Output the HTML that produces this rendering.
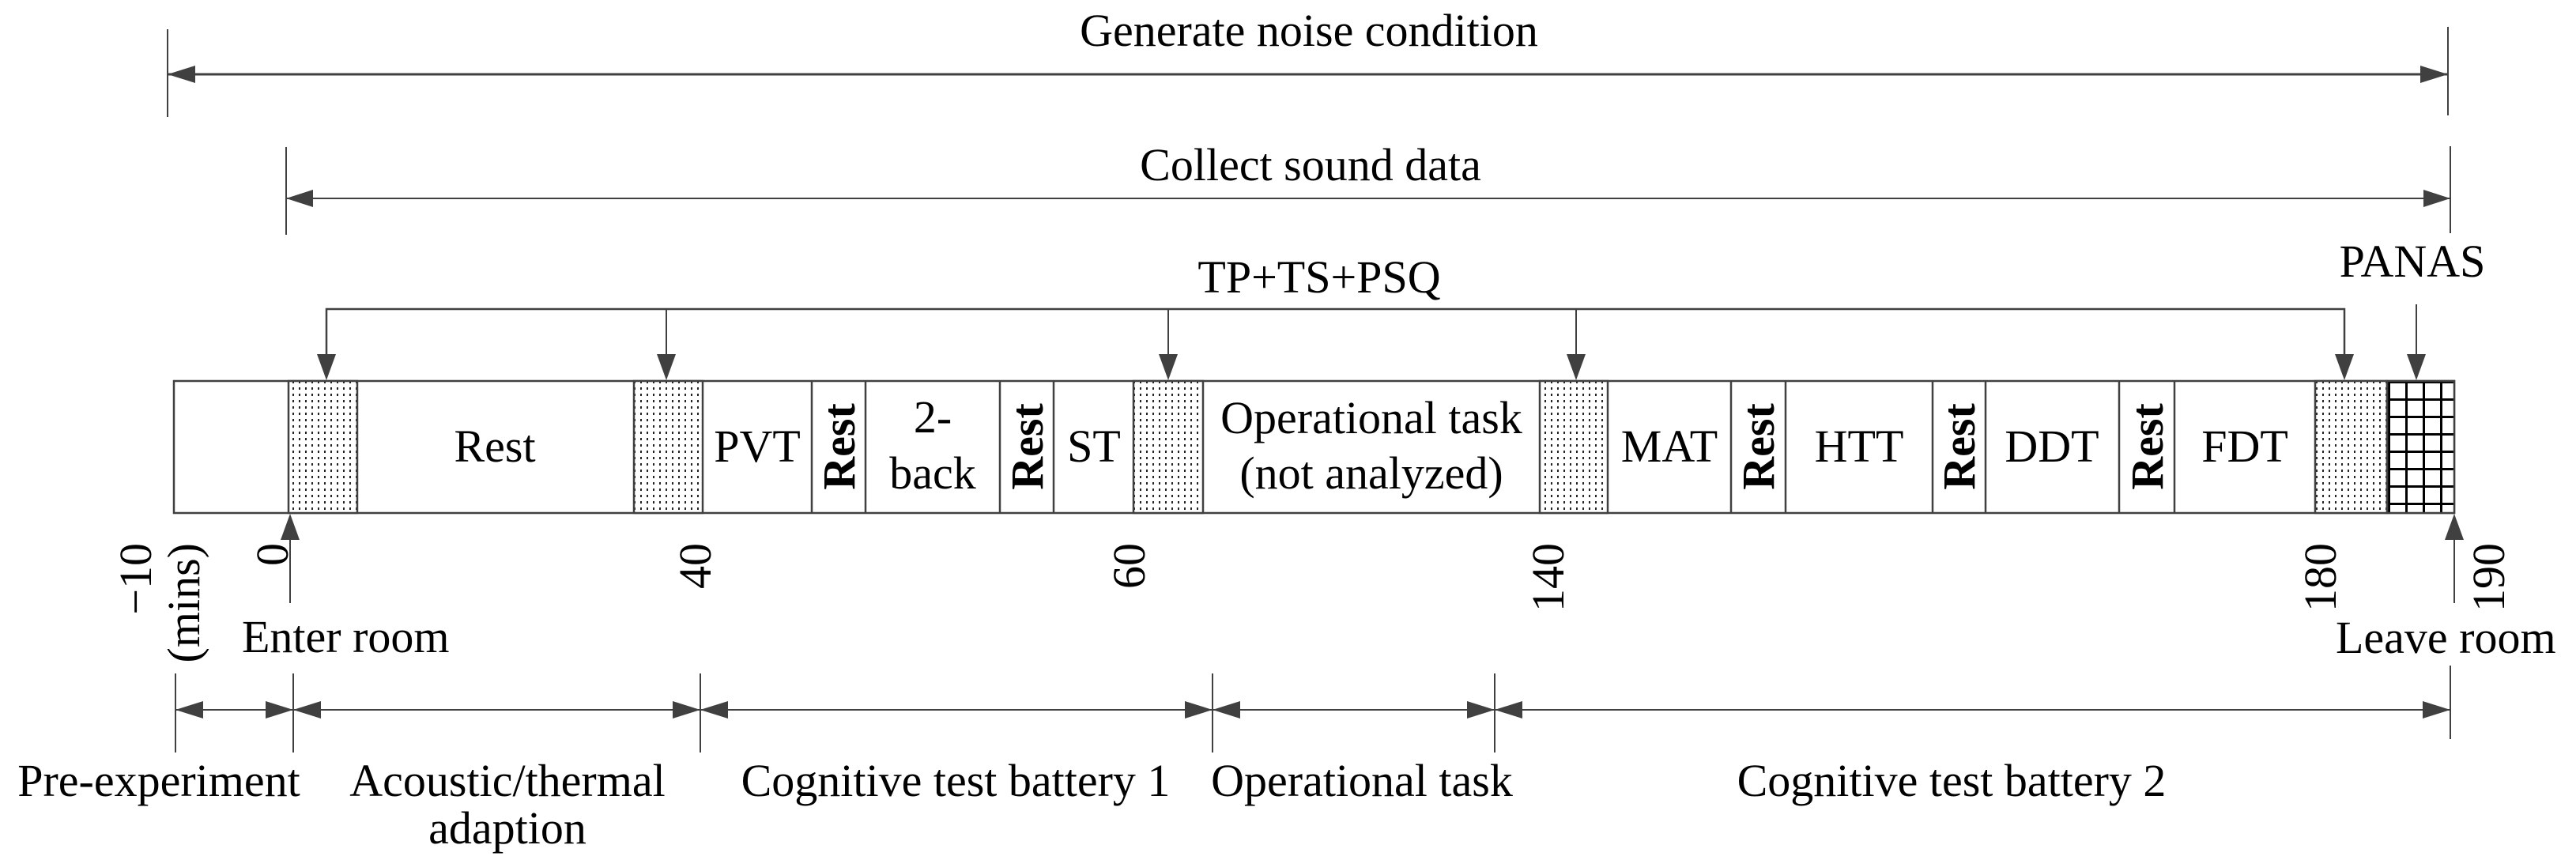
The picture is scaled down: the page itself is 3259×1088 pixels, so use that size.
<!DOCTYPE html>
<html><head><meta charset="utf-8"><style>
html,body{margin:0;padding:0;background:#fff;}
svg{display:block;}
text{font-family:"Liberation Serif",serif;font-size:58px;fill:#000;}
</style></head><body>
<svg width="3259" height="1088" viewBox="0 0 3259 1088" xmlns="http://www.w3.org/2000/svg">
<defs>
<pattern id="dots" width="8" height="8" patternUnits="userSpaceOnUse">
<rect width="8" height="8" fill="#fff"/><rect x="2" y="2" width="2" height="3" fill="#222"/>
</pattern>
<pattern id="grid" x="3021" y="482" width="22" height="22" patternUnits="userSpaceOnUse">
<rect width="22" height="22" fill="#fff"/><rect x="0" y="0" width="3" height="22" fill="#000"/><rect x="0" y="0" width="22" height="3" fill="#000"/>
</pattern>
</defs>
<g stroke="#404040" stroke-width="3" fill="none">
<line x1="212" y1="37" x2="212" y2="148" stroke-width="2"/>
<line x1="3097" y1="34" x2="3097" y2="146" stroke-width="2"/>
<line x1="212" y1="94" x2="3097" y2="94"/>
<line x1="362" y1="186" x2="362" y2="297" stroke-width="2"/>
<line x1="3100" y1="185" x2="3100" y2="295" stroke-width="2"/>
<line x1="362" y1="251" x2="3100" y2="251" stroke-width="2"/>
<polyline points="413,470 413,391 2966,391 2966,470" stroke-width="2.5"/>
<line x1="843" y1="391" x2="843" y2="470" stroke-width="2"/>
<line x1="1478" y1="391" x2="1478" y2="470" stroke-width="2"/>
<line x1="1994" y1="391" x2="1994" y2="470" stroke-width="2"/>
<line x1="3057" y1="385" x2="3057" y2="470" stroke-width="2"/>
<line x1="367" y1="660" x2="367" y2="763" stroke-width="2"/>
<line x1="3105" y1="660" x2="3105" y2="763" stroke-width="2"/>
<line x1="222" y1="852" x2="222" y2="952" stroke-width="2"/>
<line x1="371" y1="852" x2="371" y2="952" stroke-width="2"/>
<line x1="886" y1="852" x2="886" y2="952" stroke-width="2"/>
<line x1="1534" y1="852" x2="1534" y2="952" stroke-width="2"/>
<line x1="1891" y1="852" x2="1891" y2="952" stroke-width="2"/>
<line x1="3100" y1="842" x2="3100" y2="935" stroke-width="2"/>
<line x1="222" y1="898" x2="3100" y2="898" stroke-width="2"/>
</g>
<g fill="#404040">
<polygon points="212,94 247,83 247,105"/>
<polygon points="3097,94 3062,83 3062,105"/>
<polygon points="362,251 396,240 396,262"/>
<polygon points="3100,251 3066,240 3066,262"/>
<polygon points="413,481 401,448 425,448"/>
<polygon points="843,481 831,448 855,448"/>
<polygon points="1478,481 1466,448 1490,448"/>
<polygon points="1994,481 1982,448 2006,448"/>
<polygon points="2966,481 2954,448 2978,448"/>
<polygon points="3057,481 3045,448 3069,448"/>
<polygon points="367,650 355,683 379,683"/>
<polygon points="3105,650 3093,683 3117,683"/>
<polygon points="222,898 257,887 257,909"/><polygon points="371,898 336,887 336,909"/>
<polygon points="371,898 406,887 406,909"/><polygon points="886,898 851,887 851,909"/>
<polygon points="886,898 921,887 921,909"/><polygon points="1534,898 1499,887 1499,909"/>
<polygon points="1534,898 1569,887 1569,909"/><polygon points="1891,898 1856,887 1856,909"/>
<polygon points="1891,898 1926,887 1926,909"/><polygon points="3100,898 3065,887 3065,909"/>
</g>
<g stroke="#404040" stroke-width="2.5">
<rect x="220" y="482" width="2885" height="167" fill="#fff"/>
<rect x="365" y="482" width="87" height="167" fill="url(#dots)"/>
<rect x="802" y="482" width="87" height="167" fill="url(#dots)"/>
<rect x="1434" y="482" width="88" height="167" fill="url(#dots)"/>
<rect x="1948" y="482" width="86" height="167" fill="url(#dots)"/>
<rect x="2929" y="482" width="91" height="167" fill="url(#dots)"/>
<rect x="3020" y="482" width="85" height="167" fill="url(#grid)"/>
<line x1="1027" y1="482" x2="1027" y2="649"/>
<line x1="1095" y1="482" x2="1095" y2="649"/>
<line x1="1265" y1="482" x2="1265" y2="649"/>
<line x1="1333" y1="482" x2="1333" y2="649"/>
<line x1="2190" y1="482" x2="2190" y2="649"/>
<line x1="2259" y1="482" x2="2259" y2="649"/>
<line x1="2445" y1="482" x2="2445" y2="649"/>
<line x1="2512" y1="482" x2="2512" y2="649"/>
<line x1="2681" y1="482" x2="2681" y2="649"/>
<line x1="2751" y1="482" x2="2751" y2="649"/>
</g>
<g text-anchor="middle">
<text x="1656" y="58">Generate noise condition</text>
<text x="1658" y="228">Collect sound data</text>
<text x="1669" y="370">TP+TS+PSQ</text>
<text x="3052" y="350">PANAS</text>
<text x="626" y="584">Rest</text>
<text x="958" y="584">PVT</text>
<text x="1180" y="547">2-</text>
<text x="1180" y="618">back</text>
<text x="1384" y="584">ST</text>
<text x="1735" y="548">Operational task</text>
<text x="1735" y="618">(not analyzed)</text>
<text x="2112" y="584">MAT</text>
<text x="2352" y="584">HTT</text>
<text x="2596" y="584">DDT</text>
<text x="2840" y="584">FDT</text>
<text transform="translate(1061,565) rotate(-90)" y="20" font-weight="bold" font-size="54">Rest</text>
<text transform="translate(1299,565) rotate(-90)" y="20" font-weight="bold" font-size="54">Rest</text>
<text transform="translate(2224,565) rotate(-90)" y="20" font-weight="bold" font-size="54">Rest</text>
<text transform="translate(2478,565) rotate(-90)" y="20" font-weight="bold" font-size="54">Rest</text>
<text transform="translate(2716,565) rotate(-90)" y="20" font-weight="bold" font-size="54">Rest</text>
<text x="201" y="1007">Pre-experiment</text>
<text x="642" y="1007">Acoustic/thermal</text>
<text x="642" y="1067">adaption</text>
<text x="1209" y="1007">Cognitive test battery 1</text>
<text x="1723" y="1007">Operational task</text>
<text x="2469" y="1007">Cognitive test battery 2</text>
</g>
<text x="306" y="825">Enter room</text>
<text x="2955" y="826">Leave room</text>
<g text-anchor="end">
<text transform="translate(191,687) rotate(-90)">−10</text>
<text transform="translate(252,687) rotate(-90)">(mins)</text>
<text transform="translate(364,687) rotate(-90)">0</text>
<text transform="translate(899,687) rotate(-90)">40</text>
<text transform="translate(1448,687) rotate(-90)">60</text>
<text transform="translate(1978,687) rotate(-90)">140</text>
<text transform="translate(2955,687) rotate(-90)">180</text>
<text transform="translate(3168,687) rotate(-90)">190</text>
</g>
</svg>
</body></html>
